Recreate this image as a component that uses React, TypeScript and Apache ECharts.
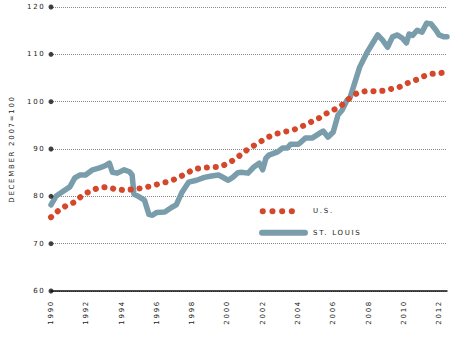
import React, { useEffect, useRef } from "react";
import * as echarts from "echarts";

const yTicks = [60, 70, 80, 90, 100, 110, 120];
const xMin = 1990;
const xMax = 2012.45;

// St. Louis house price index [year, value]
const stLouis: [number, number][] = [
  [1990.0, 78.2], [1990.28, 80.0], [1990.67, 81.0], [1991.07, 82.0], [1991.35, 83.9],
  [1991.63, 84.5], [1991.96, 84.5], [1992.36, 85.6], [1992.75, 86.0], [1993.03, 86.4],
  [1993.31, 87.0], [1993.48, 85.1], [1993.76, 84.9], [1994.15, 85.6], [1994.45, 85.2],
  [1994.6, 84.5], [1994.7, 80.5], [1994.95, 80.0], [1995.3, 79.2], [1995.55, 76.2],
  [1995.75, 76.0], [1996.0, 76.6], [1996.45, 76.7], [1996.85, 77.7], [1997.1, 78.2],
  [1997.4, 80.7], [1997.8, 83.0], [1998.25, 83.4], [1998.7, 84.0], [1999.1, 84.3],
  [1999.5, 84.5], [2000.05, 83.4], [2000.3, 84.0], [2000.6, 85.0], [2000.77, 85.1],
  [2001.17, 84.9], [2001.5, 86.2], [2001.8, 87.0], [2002.0, 85.6], [2002.18, 88.0],
  [2002.35, 88.7], [2002.85, 89.4], [2003.13, 90.2], [2003.4, 90.2], [2003.58, 91.0],
  [2004.03, 91.0], [2004.42, 92.3], [2004.8, 92.3], [2005.26, 93.4], [2005.43, 93.8],
  [2005.7, 92.5], [2006.0, 93.6], [2006.27, 97.2], [2006.5, 98.2], [2006.78, 100.3],
  [2006.95, 100.8], [2007.5, 107.3], [2007.9, 110.3], [2008.24, 112.4], [2008.52, 114.1],
  [2008.8, 113.0], [2009.08, 111.5], [2009.36, 113.7], [2009.64, 114.1], [2009.92, 113.4],
  [2010.15, 112.4], [2010.3, 114.3], [2010.5, 114.0], [2010.76, 115.1], [2011.04, 114.7],
  [2011.3, 116.6], [2011.55, 116.4], [2011.83, 115.1], [2012.0, 114.1], [2012.28, 113.7],
  [2012.45, 113.7],
];

// U.S. house price index [year, value]
const us: [number, number][] = [
  [1990.0, 75.6], [1990.4, 76.9], [1990.85, 78.0], [1991.35, 78.8], [1991.75, 80.1],
  [1992.2, 81.1], [1992.7, 81.8], [1993.2, 82.0], [1993.65, 81.5], [1994.2, 81.3],
  [1994.7, 81.5], [1995.25, 81.8], [1995.7, 82.2], [1996.3, 82.8], [1996.75, 83.2],
  [1997.25, 84.0], [1997.7, 84.9], [1998.15, 85.8], [1998.65, 86.0], [1999.1, 86.2],
  [1999.55, 86.2], [2000.05, 87.0], [2000.5, 88.0], [2000.95, 89.4], [2001.45, 90.6],
  [2001.8, 91.4], [2002.3, 92.5], [2002.75, 93.2], [2003.2, 93.6], [2003.7, 94.0],
  [2004.15, 94.6], [2004.6, 95.5], [2005.1, 96.3], [2005.55, 97.4], [2006.0, 98.2],
  [2006.5, 99.3], [2006.85, 100.5], [2007.35, 101.8], [2007.8, 102.2], [2008.25, 102.2],
  [2008.8, 102.3], [2009.3, 102.7], [2009.75, 103.1], [2010.2, 103.9], [2010.7, 104.6],
  [2011.15, 105.4], [2011.6, 105.9], [2012.2, 106.1], [2012.4, 106.0],
];

const RED = "#d5472b";
const BLUE = "#7a9dab";
const FONT = "DejaVu Sans";
const FS = 7;

export default function App() {
  const ref = useRef<HTMLDivElement>(null);
  useEffect(() => {
    if (!ref.current) return;
    const chart = echarts.init(ref.current, null, { renderer: "svg" });
    chart.setOption({
      animation: false,
      backgroundColor: "#ffffff",
      grid: { left: 47, right: 8, top: 7, bottom: 51 },
      xAxis: {
        type: "value",
        min: xMin,
        max: xMax,
        interval: 2,
        axisLine: { show: true, onZero: false, lineStyle: { color: "#111", width: 1.5 } },
        axisTick: { show: false },
        splitLine: { show: false },
        axisLabel: {
          rotate: 90,
          margin: 9,
          fontSize: FS,
          fontFamily: FONT,
          color: "#222",
          formatter: (v: number) => (Number.isInteger(v) && v % 2 === 0 ? String(v) : ""),
        },
      },
      yAxis: {
        type: "value",
        min: 60,
        max: 120,
        interval: 10,
        name: "DECEMBER 2007=100",
        nameLocation: "middle",
        nameGap: 36,
        nameTextStyle: { fontSize: FS, fontFamily: FONT, color: "#222" },
        axisLine: { show: false },
        axisTick: { show: false },
        splitLine: { show: true, lineStyle: { color: "#8a8a8a", type: [1, 1], width: 1 } },
        axisLabel: { margin: 5.5, fontSize: FS, fontFamily: FONT, color: "#222" },
      },
      series: [
        {
          type: "line",
          name: "ST. LOUIS",
          data: stLouis,
          showSymbol: false,
          lineStyle: { color: BLUE, width: 5.5, cap: "round", join: "round" },
          z: 2,
        },
        {
          type: "line",
          name: "U.S.",
          data: us,
          showSymbol: false,
          lineStyle: { color: RED, width: 6, type: [0.1, 8.8], cap: "round", join: "round" },
          z: 3,
        },
        {
          type: "scatter",
          data: yTicks.map((v) => [xMin, v]),
          symbolSize: 5,
          itemStyle: { color: "#111" },
          clip: false,
          silent: true,
          z: 4,
        },
      ],
      graphic: [
        {
          type: "line",
          shape: { x1: 262.7, y1: 211.3, x2: 301.2, y2: 211.3 },
          style: { stroke: RED, lineWidth: 6, lineDash: [0.1, 9.6], lineCap: "round" },
        },
        {
          type: "text",
          x: 313,
          y: 211.3,
          style: { text: "U.S.", fontSize: FS, fontFamily: FONT, fill: "#222", verticalAlign: "middle" },
        },
        {
          type: "line",
          shape: { x1: 262, y1: 232.7, x2: 305, y2: 232.7 },
          style: { stroke: BLUE, lineWidth: 6, lineCap: "round" },
        },
        {
          type: "text",
          x: 313,
          y: 232.7,
          style: { text: "ST. LOUIS", fontSize: FS, fontFamily: FONT, fill: "#222", verticalAlign: "middle" },
        },
      ],
    });
    return () => chart.dispose();
  }, []);
  return (
    <>
      <style>{`#root svg text { letter-spacing: 1.7px; }`}</style>
      <div ref={ref} style={{ width: 455, height: 342, position: "absolute", left: 0, top: 0 }} />
    </>
  );
}
